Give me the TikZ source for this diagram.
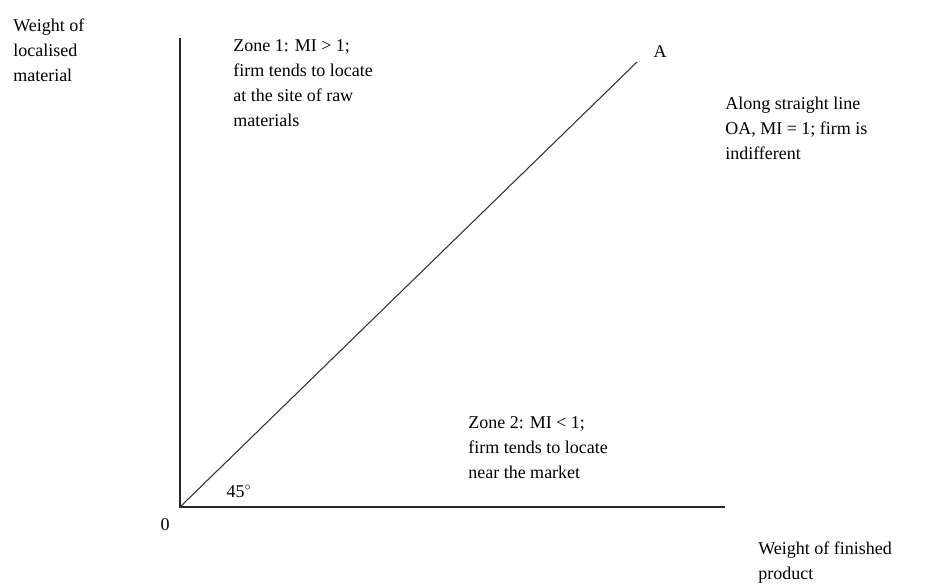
\documentclass[tikz,border=0pt]{standalone}
\usepackage{fontspec}
\setmainfont{Liberation Serif}
\begin{document}
\begin{tikzpicture}[x=0.75pt,y=-0.75pt,
  lbl/.style={inner sep=0pt, anchor=north west, align=left, font=\fontsize{13.5}{18.75}\selectfont},
  single/.style={inner sep=0pt, anchor=base, font=\fontsize{13.5}{18.75}\selectfont},
  axisline/.style={line width=1.3pt, black!85},
  diagline/.style={line width=0.8pt, black!80}]
\useasboundingbox (0,0) rectangle (930,587);
\coordinate (O) at (180,507);
\coordinate (Ytop) at (180,38);
\coordinate (Xend) at (725,507);
\coordinate (Aend) at (637,62);
\draw[axisline] (Ytop) -- (O) -- (Xend);
\draw[diagline] (O) -- (Aend);
\node[lbl] (ylab) at (13,19) {Weight of\\localised\\material};
\node[lbl] (zone1) at (233,39) {Zone 1: MI > 1;\\firm tends to locate\\at the site of raw\\materials};
\node[lbl] (along) at (725,97) {Along straight line\\OA, MI = 1; firm is\\indifferent};
\node[lbl] (zone2) at (468,416) {Zone 2: MI < 1;\\firm tends to locate\\near the market};
\node[lbl] (xlab) at (758,542) {Weight of finished\\product};
\node[single] (Alab) at (660,57) {A};
\node[single] (zero) at (165,530) {0};
\node[single] (angle) at (239,497) {45$^{\circ}$};
\end{tikzpicture}
\end{document}
